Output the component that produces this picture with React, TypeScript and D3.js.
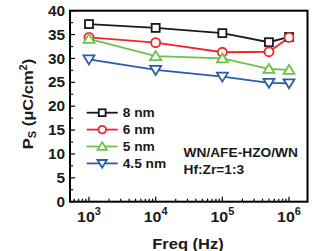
import React from "react";
import * as d3 from "d3";

const freqs = [1e3, 1e4, 1e5, 5e5, 1e6];
const s8 = [37.2, 36.4, 35.3, 33.4, 34.5];
const s6 = [34.4, 33.3, 31.3, 31.4, 34.4];
const s5 = [34.1, 30.5, 30.0, 27.8, 27.6];
const s45 = [29.8, 27.6, 26.2, 24.9, 24.8];
const seriesNames = ["8 nm", "6 nm", "5 nm", "4.5 nm"];
const seriesColors = ["#1a1a1a", "#f0262b", "#6cc24a", "#2a5caa"];
const seriesMarkers = ["square", "circle", "triangleUp", "triangleDown"];
const yTicks = [0, 5, 10, 15, 20, 25, 30, 35, 40];
const xTickExps = [3, 4, 5, 6];

const W = 317, H = 251;
const L = 70, R = 307.5, T = 10.7, B = 201.7;
const SX = 1.1;

function Marker({ type, x, y, color, s = 1 }: { type: string; x: number; y: number; color: string; s?: number }) {
  const sw = 1.8;
  if (type === "square") return <rect x={x - 4 * s} y={y - 4 * s} width={8 * s} height={8 * s} fill="white" stroke={color} strokeWidth={sw} />;
  if (type === "circle") return <circle cx={x} cy={y} r={4.5 * s} fill="white" stroke={color} strokeWidth={sw} />;
  if (type === "triangleUp")
    return <path d={`M${x},${y - 5 * s} L${x + 5.5 * s},${y + 4 * s} L${x - 5.5 * s},${y + 4 * s} Z`} fill="white" stroke={color} strokeWidth={sw} />;
  return <path d={`M${x},${y + 5 * s} L${x + 5.5 * s},${y - 4 * s} L${x - 5.5 * s},${y - 4 * s} Z`} fill="white" stroke={color} strokeWidth={sw} />;
}

function T2({ x, y, children, anchor = "start", size, dy }: any) {
  return (
    <g transform={`translate(${x},${y}) scale(${SX},1)`}>
      <text x={0} y={0} dy={dy} textAnchor={anchor} fontSize={size} fontWeight="bold" fill="#1a1a1a">
        {children}
      </text>
    </g>
  );
}

export default function App() {
  const decade = 66.8;
  const x = d3.scaleLog().domain([Math.pow(10, 3 - 19 / decade), Math.pow(10, 6 + 18.5 / decade)]).range([L, R]);
  const y = d3.scaleLinear().domain([0, 40]).range([B, T]);
  const series = [s8, s6, s5, s45];
  const line = d3.line<[number, number]>().x((d) => x(d[0])).y((d) => y(d[1]));

  const minorX: number[] = [];
  for (let e = 2; e <= 6; e++) for (let k = 1; k <= 9; k++) {
    const v = k * Math.pow(10, e);
    if (v >= x.domain()[0] && v <= x.domain()[1]) minorX.push(v);
  }
  const minorY = d3.range(0, 40.01, 2.5);
  const font = "Arial, 'Liberation Sans', sans-serif";

  return (
    <svg width={W} height={H} style={{ position: "absolute", left: 0, top: 0 }} fontFamily={font}>
      <rect width={W} height={H} fill="white" />
      {minorY.map((v, i) => (
        <line key={"my" + i} x1={L} x2={L + (v % 5 === 0 ? 5 : 3)} y1={y(v)} y2={y(v)} stroke="black" strokeWidth={1.2} />
      ))}
      {minorX.map((v, i) => {
        const major = Math.abs(Math.log10(v) - Math.round(Math.log10(v))) < 1e-9;
        return <line key={"mx" + i} x1={x(v)} x2={x(v)} y1={B} y2={B - (major ? 5 : 3)} stroke="black" strokeWidth={1.2} />;
      })}
      {series.map((s, i) => (
        <path key={"l" + i} d={line(freqs.map((f, j) => [f, s[j]]) as [number, number][]) || ""} fill="none" stroke={seriesColors[i]} strokeWidth={1.8} />
      ))}
      {series.map((s, i) =>
        freqs.map((f, j) => <Marker key={"m" + i + "-" + j} type={seriesMarkers[i]} x={x(f)} y={y(s[j])} color={seriesColors[i]} />)
      )}
      <rect x={L} y={T} width={R - L} height={B - T} fill="none" stroke="black" strokeWidth={2} />
      {yTicks.map((v) => (
        <T2 key={"yt" + v} x={65} y={y(v)} dy="0.36em" anchor="end" size={14}>
          {v}
        </T2>
      ))}
      {xTickExps.map((e) => (
        <T2 key={"xt" + e} x={x(Math.pow(10, e))} y={221.7} anchor="middle" size={14.5}>
          10<tspan dy={-6.5} fontSize={10}>{e}</tspan>
        </T2>
      ))}
      <T2 x={188} y={248.5} anchor="middle" size={15}>Freq (Hz)</T2>
      <g transform={`translate(33,104) rotate(-90) scale(1.1,1)`}>
        <text textAnchor="middle" fontSize={15} fontWeight="bold" fill="#1a1a1a">
          P<tspan dy={3} fontSize={10}>S</tspan>
          <tspan dy={-3}> (μC/cm</tspan>
          <tspan dy={-6} fontSize={10}>2</tspan>
          <tspan dy={6}>)</tspan>
        </text>
      </g>
      {seriesNames.map((n, i) => {
        const ly = 112.7 + i * 16.9;
        return (
          <g key={"lg" + i}>
            <line x1={86.7} x2={117.7} y1={ly} y2={ly} stroke={seriesColors[i]} strokeWidth={1.8} />
            <Marker type={seriesMarkers[i]} x={102.2} y={ly} color={seriesColors[i]} s={0.85} />
            <T2 x={122.7} y={ly} dy="0.36em" size={12.5}>{n}</T2>
          </g>
        );
      })}
      <T2 x={183.5} y={157.3} size={12.5}>WN/AFE-HZO/WN</T2>
      <T2 x={183.5} y={173.5} size={12.5}>Hf:Zr=1:3</T2>
    </svg>
  );
}
